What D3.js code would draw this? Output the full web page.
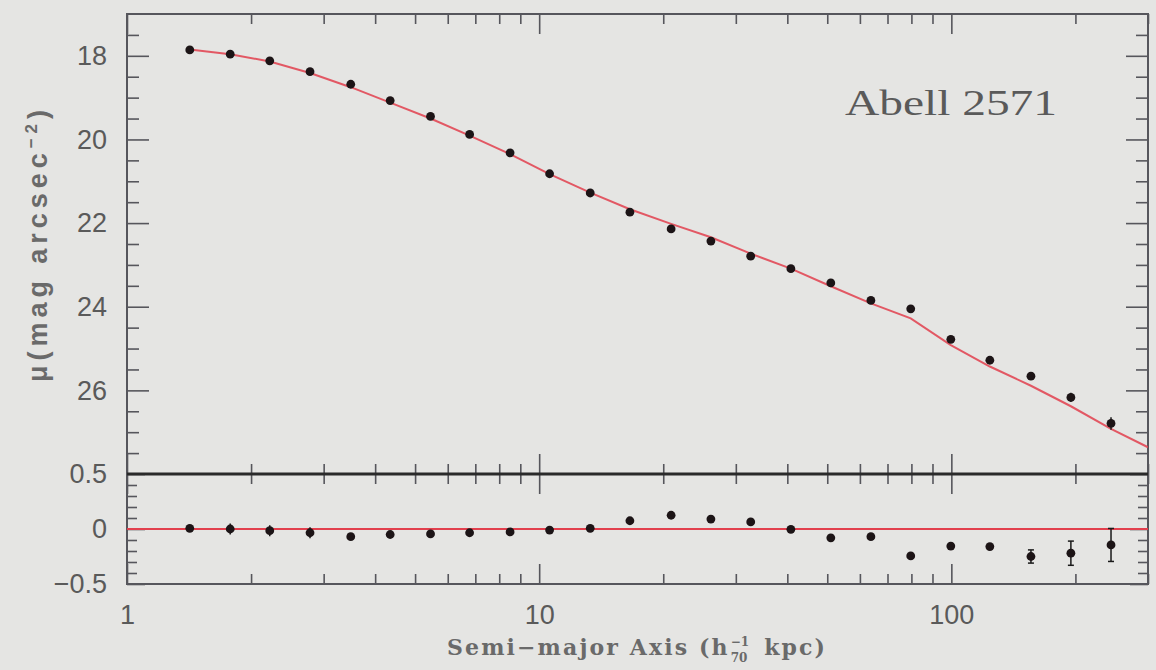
<!DOCTYPE html>
<html><head><meta charset="utf-8">
<script src="https://cdn.jsdelivr.net/npm/d3@7"></script>
<style>html,body{margin:0;padding:0;background:#e5e5e3;} svg{display:block}</style>
</head><body><svg id="c" width="1156" height="670"></svg>
<script>
// ---- data ----
const radius   = [1.42, 1.78, 2.22, 2.78, 3.49, 4.35, 5.45, 6.78, 8.50, 10.6, 13.3, 16.6, 20.9, 26.1, 32.6, 40.8, 51.0, 63.8, 79.7, 99.7, 124, 156, 195, 244];
const mu       = [17.86, 17.96, 18.12, 18.38, 18.68, 19.07, 19.45, 19.88, 20.32, 20.82, 21.28, 21.74, 22.14, 22.43, 22.79, 23.09, 23.43, 23.85, 24.05, 24.78, 25.28, 25.66, 26.17, 26.79];
const residual = [0.006, 0.0, -0.015, -0.034, -0.07, -0.05, -0.045, -0.034, -0.027, -0.01, 0.006, 0.075, 0.125, 0.09, 0.064, -0.003, -0.08, -0.07, -0.245, -0.155, -0.16, -0.25, -0.22, -0.145];
const resErr   = [0.03, 0.05, 0.05, 0.05, 0.03, 0.03, 0.02, 0.02, 0.02, 0.02, 0.02, 0.02, 0.02, 0.02, 0.02, 0.02, 0.02, 0.02, 0.03, 0.03, 0.03, 0.06, 0.11, 0.15];
const fitRadius = [1.42, 1.78, 2.22, 2.78, 3.49, 4.35, 5.45, 6.78, 8.50, 10.6, 13.3, 16.6, 20.9, 26.1, 32.6, 40.8, 51.0, 63.8, 79.7, 99.7, 124, 156, 195, 244, 300];
const fitMu     = [17.85, 17.96, 18.135, 18.41, 18.75, 19.12, 19.50, 19.91, 20.35, 20.83, 21.27, 21.67, 22.02, 22.34, 22.73, 23.09, 23.51, 23.92, 24.28, 24.92, 25.43, 25.89, 26.38, 26.92, 27.36];
const xMajorTicks = [1, 10, 100];
const xTickLabels = ["1", "10", "100"];
const yTopMajorTicks = [18, 20, 22, 24, 26];
const yTopTickLabels = ["18", "20", "22", "24", "26"];
const yBotMajorTicks = [0.5, 0, -0.5];
const yBotTickLabels = ["0.5", "0", "\u22120.5"];
const titleText = "Abell 2571";

// ---- layout ----
const L = 127, R = 1148, T = 14, MID = 474, B = 584;
const ink = "#56565c", txt = "#5a5a5a", red = "#e2404e";
const svg = d3.select("#c");
svg.append("rect").attr("width", 1156).attr("height", 670).attr("fill", "#e5e5e3");

const x = d3.scaleLog().domain([1, 300]).range([L, R]);
const yT = d3.scaleLinear().domain([17, 28]).range([T, MID]);
const yB = d3.scaleLinear().domain([0.5, -0.5]).range([MID, B]);

const xMinor = x.ticks().filter(v => !xMajorTicks.includes(v));
const yTopMinor = d3.range(17.5, 28, 0.5).filter(v => !yTopMajorTicks.includes(v));
const yBotMinor = d3.range(-4, 5).map(v => v / 10).filter(v => v !== 0);

function axisG(gen, tx, ty) {
  const g = svg.append("g").attr("transform", `translate(${tx},${ty})`).call(gen);
  g.select(".domain").remove();
  g.selectAll(".tick line").attr("stroke", ink).attr("stroke-width", 1.6);
  return g;
}
const noLab = () => "";

const gl = axisG(d3.axisLeft(yT).tickValues(yTopMajorTicks).tickSize(-22).tickPadding(20)
  .tickFormat((d, i) => yTopTickLabels[i]), L, 0);
gl.selectAll("text").attr("font-family", "Liberation Sans, Arial, sans-serif").attr("font-size", 27).attr("fill", txt);
axisG(d3.axisLeft(yT).tickValues(yTopMinor).tickSize(-12).tickFormat(noLab), L, 0);
axisG(d3.axisRight(yT).tickValues(yTopMajorTicks).tickSize(-22).tickFormat(noLab), R, 0);
axisG(d3.axisRight(yT).tickValues(yTopMinor).tickSize(-12).tickFormat(noLab), R, 0);

const glb = axisG(d3.axisLeft(yB).tickValues(yBotMajorTicks).tickSize(-18).tickPadding(20)
  .tickFormat((d, i) => yBotTickLabels[i]), L, 0);
glb.selectAll("text").attr("font-family", "Liberation Sans, Arial, sans-serif").attr("font-size", 27).attr("fill", txt);
axisG(d3.axisLeft(yB).tickValues(yBotMinor).tickSize(-10).tickFormat(noLab), L, 0);
axisG(d3.axisRight(yB).tickValues(yBotMajorTicks).tickSize(-18).tickFormat(noLab), R, 0);
axisG(d3.axisRight(yB).tickValues(yBotMinor).tickSize(-10).tickFormat(noLab), R, 0);

axisG(d3.axisTop(x).tickValues(xMajorTicks).tickSize(-20).tickFormat(noLab), 0, T);
axisG(d3.axisTop(x).tickValues(xMinor).tickSize(-10).tickFormat(noLab), 0, T);
axisG(d3.axisTop(x).tickValues(xMajorTicks).tickSize(20).tickFormat(noLab), 0, MID);
axisG(d3.axisBottom(x).tickValues(xMajorTicks).tickSize(20).tickFormat(noLab), 0, MID);
axisG(d3.axisTop(x).tickValues(xMinor).tickSize(10).tickFormat(noLab), 0, MID);
axisG(d3.axisBottom(x).tickValues(xMinor).tickSize(10).tickFormat(noLab), 0, MID);
const gb = axisG(d3.axisBottom(x).tickValues(xMajorTicks).tickSize(-20).tickFormat((d, i) => xTickLabels[i]), 0, B);
gb.selectAll("text").attr("y", 40).attr("dy", 0).attr("font-family", "Liberation Sans, Arial, sans-serif")
  .attr("font-size", 27).attr("fill", txt);
axisG(d3.axisBottom(x).tickValues(xMinor).tickSize(-10).tickFormat(noLab), 0, B);

svg.append("rect").attr("x", L).attr("y", T).attr("width", R - L).attr("height", B - T)
  .attr("fill", "none").attr("stroke", ink).attr("stroke-width", 2);
svg.append("line").attr("x1", L).attr("x2", R).attr("y1", MID).attr("y2", MID)
  .attr("stroke", "#2a2a2a").attr("stroke-width", 3);

svg.append("clipPath").attr("id", "clipT").append("rect").attr("x", L).attr("y", T).attr("width", R - L).attr("height", MID - T);

svg.append("path").attr("clip-path", "url(#clipT)")
  .datum(fitRadius.map((r, i) => [r, fitMu[i]]))
  .attr("d", d3.line().x(d => x(d[0])).y(d => yT(d[1])))
  .attr("fill", "none").attr("stroke", red).attr("stroke-width", 2).attr("stroke-opacity", 0.85);

const gp = svg.append("g");
gp.selectAll("line").data(radius).join("line")
  .attr("x1", d => x(d)).attr("x2", d => x(d))
  .attr("y1", (d, i) => yT(mu[i] - resErr[i])).attr("y2", (d, i) => yT(mu[i] + resErr[i]))
  .attr("stroke", "#1a1a1a").attr("stroke-width", 1.5);
gp.selectAll("circle").data(radius).join("circle")
  .attr("cx", d => x(d)).attr("cy", (d, i) => yT(mu[i])).attr("r", 4.4).attr("fill", "#1c1416");

svg.append("line").attr("x1", x(1)).attr("x2", x(300)).attr("y1", yB(0)).attr("y2", yB(0))
  .attr("stroke", red).attr("stroke-width", 2.2);

const gr = svg.append("g");
gr.selectAll("line").data(radius).join("line")
  .attr("x1", d => x(d)).attr("x2", d => x(d))
  .attr("y1", (d, i) => yB(residual[i] - resErr[i])).attr("y2", (d, i) => yB(residual[i] + resErr[i]))
  .attr("stroke", "#1a1a1a").attr("stroke-width", 1.5);
const capData = radius.map((r, i) => i).filter(i => resErr[i] > 0.05);
[1, -1].forEach(s => {
  gr.append("g").selectAll("line").data(capData).join("line")
    .attr("x1", i => x(radius[i]) - 3).attr("x2", i => x(radius[i]) + 3)
    .attr("y1", i => yB(residual[i] + s * resErr[i])).attr("y2", i => yB(residual[i] + s * resErr[i]))
    .attr("stroke", "#1a1a1a").attr("stroke-width", 1.5);
});
gr.selectAll("circle").data(radius).join("circle")
  .attr("cx", d => x(d)).attr("cy", (d, i) => yB(residual[i])).attr("r", 4.4).attr("fill", "#1c1416");

svg.append("text").attr("x", 845).attr("y", 115).text(titleText)
  .attr("font-family", "Liberation Serif, Times New Roman, serif").attr("font-size", 36)
  .attr("fill", txt).attr("textLength", 212).attr("lengthAdjust", "spacingAndGlyphs");

svg.append("text").attr("transform", "translate(47,246) rotate(-90)").attr("text-anchor", "middle")
  .attr("font-family", "Liberation Sans, Arial, sans-serif").attr("font-size", 27).attr("font-weight", "bold")
  .attr("fill", "#6a6a6a").attr("textLength", 272).attr("lengthAdjust", "spacing")
  .call(t => {
    t.append("tspan").text("\u03bc(mag arcsec");
    t.append("tspan").attr("dy", -10).attr("font-size", 17).text("\u22122");
    t.append("tspan").attr("dy", 10).text(")");
  });

// x label (spread to the reference width)
const xl = svg.append("g").attr("font-family", "DejaVu Serif, serif")
  .attr("font-weight", "bold").attr("fill", "#6a6a6a").attr("font-size", 22);
const s1 = "Semi\u2212major Axis (h", s2 = "kpc)";
const p1 = xl.append("text").attr("y", 655).text(s1);
const sup = xl.append("text").attr("y", 646).attr("font-size", 12).text("\u22121");
const sub = xl.append("text").attr("y", 662).attr("font-size", 12).text("70");
const p2 = xl.append("text").attr("y", 655).text(s2);
const ws = Math.max(sup.node().getComputedTextLength(), sub.node().getComputedTextLength());
const gap = 16;
const raw = p1.node().getComputedTextLength() + p2.node().getComputedTextLength() + ws + gap + 2;
const target = 380;
const ls = Math.max(0, (target - raw) / (s1.length + s2.length - 1));
p1.attr("letter-spacing", ls); p2.attr("letter-spacing", ls);
const w1 = p1.node().getComputedTextLength();
const x0 = 447;
p1.attr("x", x0);
sup.attr("x", x0 + w1 + 1);
sub.attr("x", x0 + w1 + 1);
p2.attr("x", x0 + w1 + ws + gap);
</script></body></html>
